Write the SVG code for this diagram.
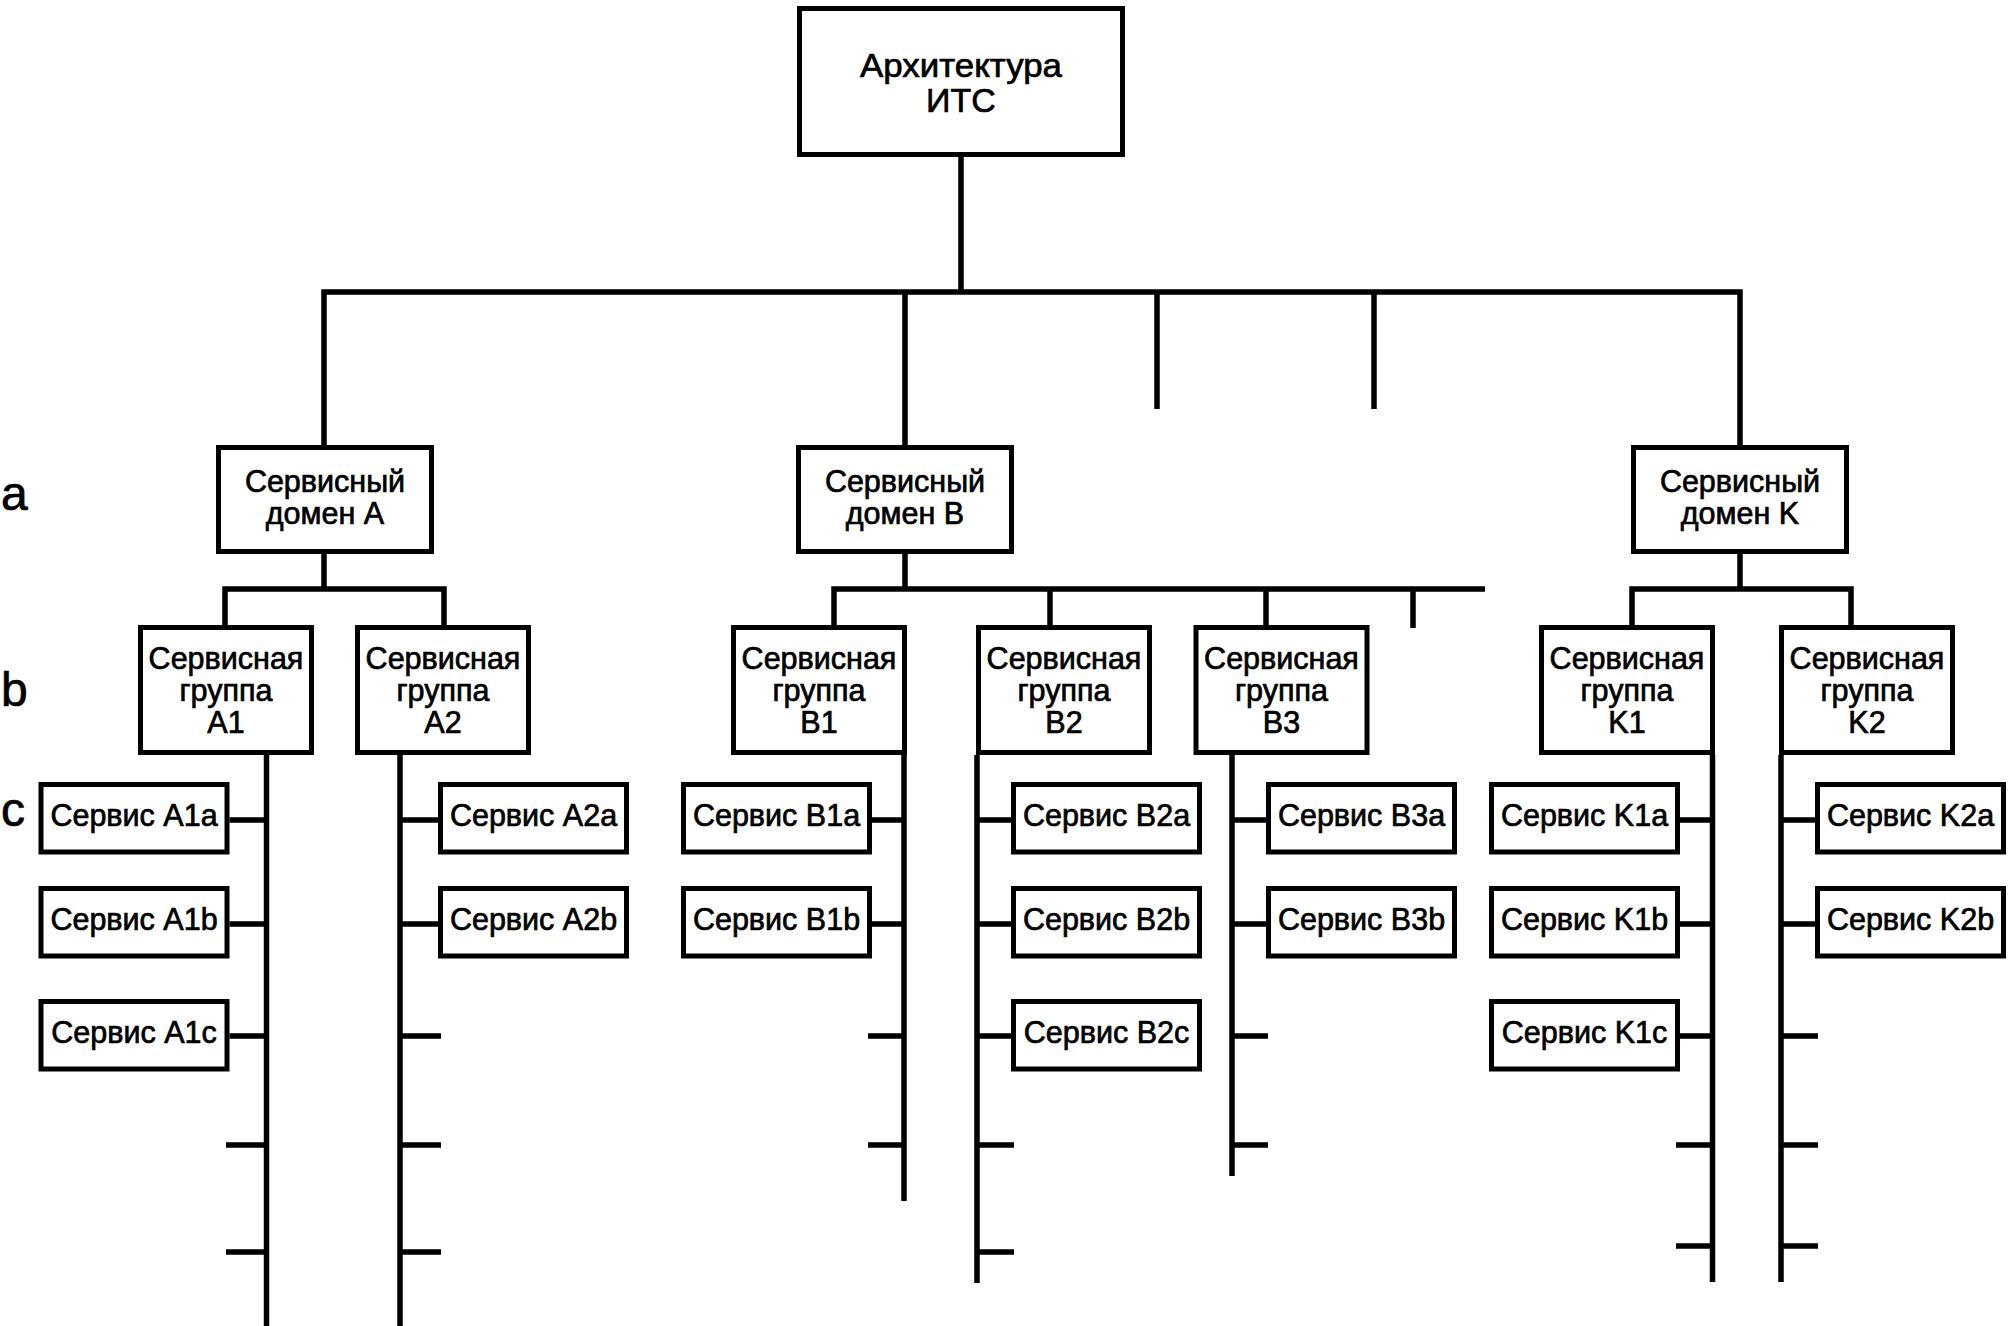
<svg xmlns="http://www.w3.org/2000/svg" width="2010" height="1326" viewBox="0 0 2010 1326">
<style>
.box{fill:#fff;stroke:#000;stroke-width:5}
.ln{fill:none;stroke:#000;stroke-width:5.5;stroke-linejoin:miter;stroke-linecap:butt}
text{font-family:"Liberation Sans",Arial,sans-serif;fill:#000;stroke:#000;stroke-width:0.7;text-anchor:middle}
.t1{font-size:34px}
.t2{font-size:30.5px}
.lbl{font-size:48px;text-anchor:start}
</style>
<rect width="2010" height="1326" fill="#fff"/>
<g id="connectors" class="ln">
<path d="M961,157 V292"/>
<path d="M324,445 V292 H1740 V445"/>
<path d="M905,292 V445"/>
<path d="M1157,292 V409"/>
<path d="M1374,292 V409"/>
<path d="M324,554 V589"/>
<path d="M225,625 V589 H444 V625"/>
<path d="M905,554 V589"/>
<path d="M834,625 V589 H1485"/>
<path d="M1050,589 V625"/>
<path d="M1266,589 V625"/>
<path d="M1413,589 V628"/>
<path d="M1740,554 V589"/>
<path d="M1632,625 V589 H1851 V625"/>
<path d="M266.5,755 V1326"/>
<path d="M400,755 V1326"/>
<path d="M904,755 V1201"/>
<path d="M977,755 V1283"/>
<path d="M1232,755 V1176"/>
<path d="M1712.5,755 V1282"/>
<path d="M1781,755 V1282"/>
<path d="M229.5,820 H266.5 M229.5,924 H266.5 M229.5,1036 H266.5 M226,1145 H266.5 M226,1252 H266.5"/>
<path d="M400,820 H438 M400,924 H438 M400,1036 H441 M400,1145 H441 M400,1252 H441"/>
<path d="M872,820 H904 M872,924 H904 M868,1036 H904 M868,1145 H904"/>
<path d="M977,820 H1011 M977,924 H1011 M977,1036 H1011 M977,1145 H1014 M977,1252 H1014"/>
<path d="M1232,820 H1266 M1232,924 H1266 M1232,1036 H1268 M1232,1145 H1268"/>
<path d="M1680,820 H1712.5 M1680,924 H1712.5 M1680,1036 H1712.5 M1676,1145 H1712.5 M1676,1246 H1712.5"/>
<path d="M1781,820 H1815 M1781,924 H1815 M1781,1036 H1818 M1781,1145 H1818 M1781,1246 H1818"/>
</g>
<g id="labels">
<text class="lbl" x="1" y="510">a</text>
<text class="lbl" x="1" y="706">b</text>
<text class="lbl" x="1" y="826">c</text>
</g>
<g id="root"><rect class="box" x="799.5" y="8.5" width="323" height="146"/><text class="t1" x="961" y="76.5" textLength="202" lengthAdjust="spacingAndGlyphs">Архитектура</text><text class="t1" x="961" y="112">ИТС</text></g>
<g id="domainA"><rect class="box" x="218.5" y="447.5" width="213" height="104"/><text class="t2" x="325" y="492">Сервисный</text><text class="t2" x="325" y="524">домен A</text></g>
<g id="domainB"><rect class="box" x="798.5" y="447.5" width="213" height="104"/><text class="t2" x="905" y="492">Сервисный</text><text class="t2" x="905" y="524">домен B</text></g>
<g id="domainK"><rect class="box" x="1633.5" y="447.5" width="213" height="104"/><text class="t2" x="1740" y="492">Сервисный</text><text class="t2" x="1740" y="524">домен K</text></g>
<g id="groupA1"><rect class="box" x="140.5" y="627.5" width="171" height="125"/><text class="t2" x="226" y="669">Сервисная</text><text class="t2" x="226" y="701">группа</text><text class="t2" x="226" y="733">A1</text></g>
<g id="groupA2"><rect class="box" x="357.5" y="627.5" width="171" height="125"/><text class="t2" x="443" y="669">Сервисная</text><text class="t2" x="443" y="701">группа</text><text class="t2" x="443" y="733">A2</text></g>
<g id="groupB1"><rect class="box" x="733.5" y="627.5" width="171" height="125"/><text class="t2" x="819" y="669">Сервисная</text><text class="t2" x="819" y="701">группа</text><text class="t2" x="819" y="733">B1</text></g>
<g id="groupB2"><rect class="box" x="978.5" y="627.5" width="171" height="125"/><text class="t2" x="1064" y="669">Сервисная</text><text class="t2" x="1064" y="701">группа</text><text class="t2" x="1064" y="733">B2</text></g>
<g id="groupB3"><rect class="box" x="1196" y="627.5" width="171" height="125"/><text class="t2" x="1281.5" y="669">Сервисная</text><text class="t2" x="1281.5" y="701">группа</text><text class="t2" x="1281.5" y="733">B3</text></g>
<g id="groupK1"><rect class="box" x="1541.5" y="627.5" width="171" height="125"/><text class="t2" x="1627" y="669">Сервисная</text><text class="t2" x="1627" y="701">группа</text><text class="t2" x="1627" y="733">K1</text></g>
<g id="groupK2"><rect class="box" x="1781.5" y="627.5" width="171" height="125"/><text class="t2" x="1867" y="669">Сервисная</text><text class="t2" x="1867" y="701">группа</text><text class="t2" x="1867" y="733">K2</text></g>
<g id="svcA1a"><rect class="box" x="41" y="784.5" width="186" height="67.5"/><text class="t2" x="134" y="826">Сервис A1a</text></g>
<g id="svcA1b"><rect class="box" x="41" y="888.5" width="186" height="67.5"/><text class="t2" x="134" y="930">Сервис A1b</text></g>
<g id="svcA1c"><rect class="box" x="41" y="1001.5" width="186" height="67.5"/><text class="t2" x="134" y="1043">Сервис A1c</text></g>
<g id="svcA2a"><rect class="box" x="440.5" y="784.5" width="186" height="67.5"/><text class="t2" x="533.5" y="826">Сервис A2a</text></g>
<g id="svcA2b"><rect class="box" x="440.5" y="888.5" width="186" height="67.5"/><text class="t2" x="533.5" y="930">Сервис A2b</text></g>
<g id="svcB1a"><rect class="box" x="683.5" y="784.5" width="186" height="67.5"/><text class="t2" x="776.5" y="826">Сервис B1a</text></g>
<g id="svcB1b"><rect class="box" x="683.5" y="888.5" width="186" height="67.5"/><text class="t2" x="776.5" y="930">Сервис B1b</text></g>
<g id="svcB2a"><rect class="box" x="1013.5" y="784.5" width="186" height="67.5"/><text class="t2" x="1106.5" y="826">Сервис B2a</text></g>
<g id="svcB2b"><rect class="box" x="1013.5" y="888.5" width="186" height="67.5"/><text class="t2" x="1106.5" y="930">Сервис B2b</text></g>
<g id="svcB2c"><rect class="box" x="1013.5" y="1001.5" width="186" height="67.5"/><text class="t2" x="1106.5" y="1043">Сервис B2c</text></g>
<g id="svcB3a"><rect class="box" x="1268.5" y="784.5" width="186" height="67.5"/><text class="t2" x="1361.5" y="826">Сервис B3a</text></g>
<g id="svcB3b"><rect class="box" x="1268.5" y="888.5" width="186" height="67.5"/><text class="t2" x="1361.5" y="930">Сервис B3b</text></g>
<g id="svcK1a"><rect class="box" x="1491.5" y="784.5" width="186" height="67.5"/><text class="t2" x="1584.5" y="826">Сервис K1a</text></g>
<g id="svcK1b"><rect class="box" x="1491.5" y="888.5" width="186" height="67.5"/><text class="t2" x="1584.5" y="930">Сервис K1b</text></g>
<g id="svcK1c"><rect class="box" x="1491.5" y="1001.5" width="186" height="67.5"/><text class="t2" x="1584.5" y="1043">Сервис K1c</text></g>
<g id="svcK2a"><rect class="box" x="1817.5" y="784.5" width="186" height="67.5"/><text class="t2" x="1910.5" y="826">Сервис K2a</text></g>
<g id="svcK2b"><rect class="box" x="1817.5" y="888.5" width="186" height="67.5"/><text class="t2" x="1910.5" y="930">Сервис K2b</text></g>
</svg>
